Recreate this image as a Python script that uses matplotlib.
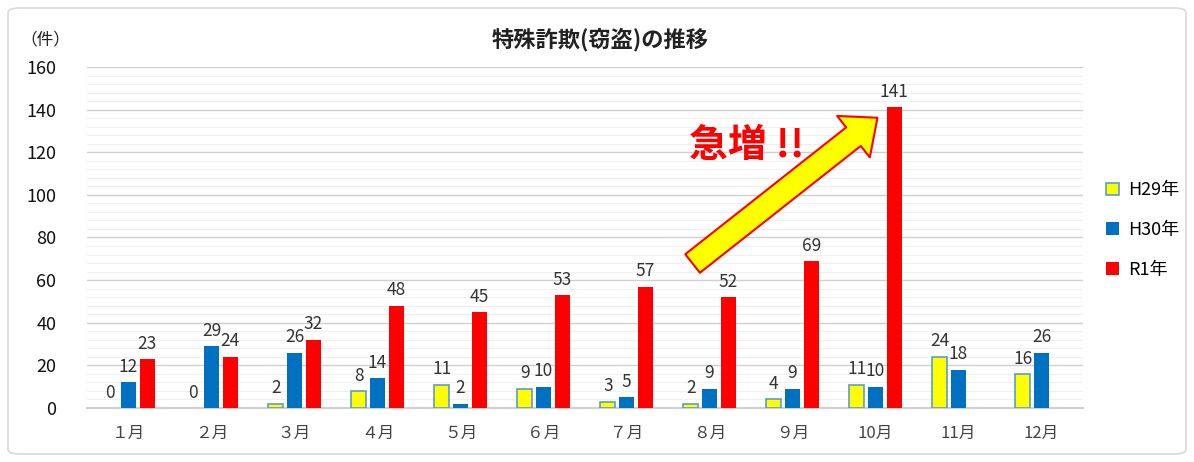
import matplotlib
matplotlib.use("Agg")
import matplotlib.pyplot as plt
import numpy as np
from matplotlib.patches import FancyBboxPatch, Patch

plt.rcParams['font.family'] = ['Noto Sans CJK JP', 'DejaVu Sans']

months = ["１月", "２月", "３月", "４月", "５月", "６月", "７月", "８月", "９月", "10月", "11月", "12月"]
h29 = [0, 0, 2, 8, 11, 9, 3, 2, 4, 11, 24, 16]
h30 = [12, 29, 26, 14, 2, 10, 5, 9, 9, 10, 18, 26]
r1 = [23, 24, 32, 48, 45, 53, 57, 52, 69, 141, None, None]
series_names = ["H29年", "H30年", "R1年"]
yticks = [0, 20, 40, 60, 80, 100, 120, 140, 160]

fig = plt.figure(figsize=(11.94, 4.62), dpi=100)
ax = fig.add_axes([87/1194, 1-408/462, 996/1194, 341/462])

frame = FancyBboxPatch((8/1194, 8/462), 1178/1194, 446/462, boxstyle="round,pad=0,rounding_size=0.01",
                       transform=fig.transFigure, fill=False, edgecolor="#d9d9d9", linewidth=1.2)
fig.patches.append(frame)

x = np.arange(len(months))
w = 0.18
off = 0.225
colors = ["#FFFF00", "#0070C0", "#FF0000"]
edges = ["#5B9BD5", "#0070C0", "#FF0000"]
lws = [1.2, 0, 0]
data = [h29, h30, r1]
handles = []
for i, (vals, c, e, lw, name) in enumerate(zip(data, colors, edges, lws, series_names)):
    xs = [xi + (i - 1) * off for xi, v in zip(x, vals) if v is not None]
    vs = [v for v in vals if v is not None]
    bars = ax.bar(xs, vs, width=w, color=c, edgecolor=e, linewidth=lw, zorder=3)
    for b, vv in zip(bars, vs):
        if vv == 0:
            b.set_visible(False)
    for xx, vv in zip(xs, vs):
        ax.text(xx, vv + 3, str(vv), ha="center", va="bottom", fontsize=12.5, color="#333333", zorder=4)
    handles.append(Patch(facecolor=c, edgecolor=e, linewidth=lw, label=name))

ax.set_xlim(-0.5, 11.5)
ax.set_ylim(0, 160)
ax.set_yticks(yticks)
ax.set_yticks(np.arange(0, 161, 4), minor=True)
ax.grid(axis="y", which="major", color="#d0d0d0", linewidth=1.0, zorder=0)
ax.grid(axis="y", which="minor", color="#f0f0f0", linewidth=0.8, zorder=0)
ax.set_xticks(x)
ax.set_xticklabels(months, fontsize=12, color="#444444")
ax.tick_params(axis="both", which="both", length=0)
ax.tick_params(axis="x", pad=12)
ax.tick_params(axis="y", pad=22, labelsize=13, labelcolor="#111111")
for s in ["top", "right", "left"]:
    ax.spines[s].set_visible(False)
ax.spines["bottom"].set_color("#d0d0d0")
ax.spines["bottom"].set_linewidth(1.5)

fig.text(600/1194, 1-40/462, "特殊詐欺(窃盗)の推移", ha="center", va="center", fontsize=16, fontweight="bold", color="#222222")
fig.text(45/1194, 1-40/462, "（件）", ha="center", va="center", fontsize=12, color="#222222")

ax.annotate("", xy=(9.05, 137), xytext=(6.77, 67),
            arrowprops=dict(arrowstyle="simple,head_length=1.1,head_width=1.9,tail_width=0.85",
                            facecolor="#FFFF00", edgecolor="#FF0000", linewidth=1.5, mutation_scale=20),
            zorder=5)
ax.text(7.45, 123, "急増 !!", ha="center", va="center", fontsize=28, fontweight="bold", color="#FF0000", zorder=5)

leg = fig.legend(handles=handles, loc="center left", bbox_to_anchor=(1090/1194, 1-230/462), frameon=False,
                 fontsize=13, handlelength=0.7, handleheight=0.7, labelspacing=1.2, handletextpad=0.5)

fig.savefig("out.png", dpi=100)
